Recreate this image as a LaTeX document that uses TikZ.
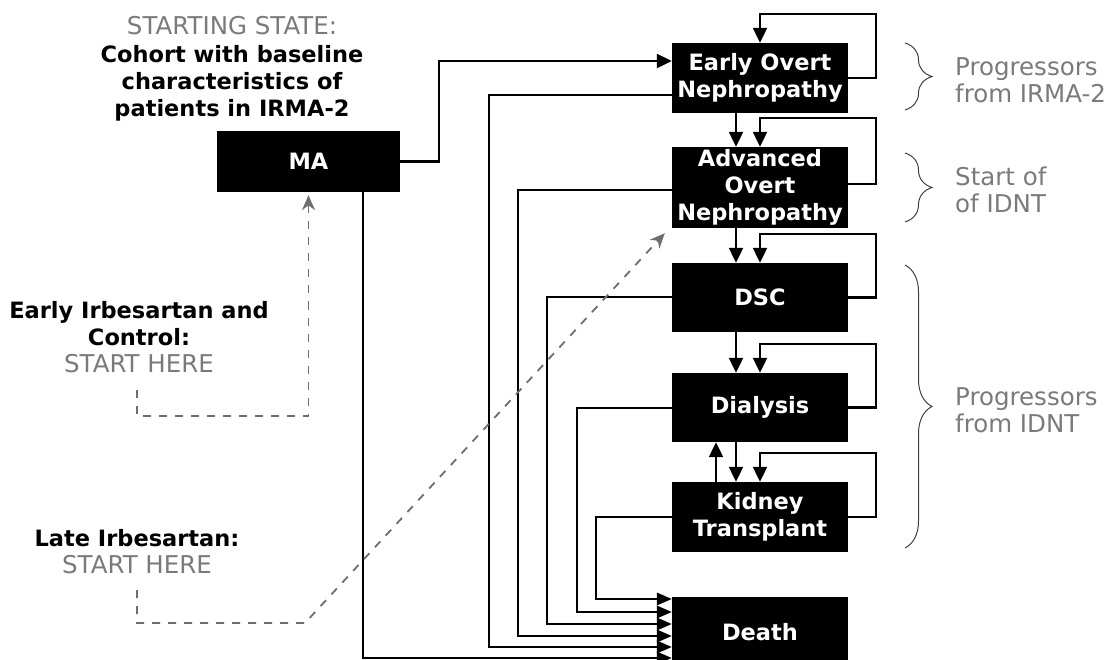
\documentclass[tikz,border=0pt]{standalone}
\usepackage{fontspec}
\setmainfont{DejaVu Sans}
\usetikzlibrary{arrows.meta,calc,decorations.pathreplacing}
\definecolor{graytext}{HTML}{7A7A7A}
\definecolor{graydash}{HTML}{6E6E6E}
\newcommand\bxfont{\fontsize{22.5}{27}\selectfont\bfseries}
\newcommand\gyfont{\fontsize{24.5}{27}\selectfont\mdseries\color{graytext}}
\begin{document}
\begin{tikzpicture}[x=1pt,y=-1pt,
  box/.style={fill=black,text=white,font=\bxfont,align=center,inner sep=0pt,minimum width=176pt},
  arr/.style={line width=2.2pt,-{Triangle[length=15pt,width=14pt]}},
  conn/.style={line width=2pt,-{Triangle[length=15pt,width=12.5pt]}},
  dasharr/.style={draw=graydash,line width=1.8pt,dash pattern=on 8pt off 8pt,-{Stealth[length=15pt,width=13pt]}},
  brc/.style={draw=black!75,line width=1pt,decorate,decoration={brace,amplitude=27pt}},
  lbl/.style={align=center,inner sep=0pt,font=\bxfont},
  glbl/.style={align=left,inner sep=0pt,font=\gyfont,anchor=west}]
\useasboundingbox (0,0) rectangle (1119,660);

% boxes
\node[box,minimum width=183pt,minimum height=61pt] (MA) at (308.5,161.5) {MA};
\node[box,minimum height=70pt] (EON) at (760,78) {Early Overt\\Nephropathy};
\node[box,minimum height=81pt] (AON) at (760,187.5) {Advanced\\Overt\\Nephropathy};
\node[box,minimum height=69pt] (DSC) at (760,297.5) {DSC};
\node[box,minimum height=69pt] (DIA) at (760,407.5) {Dialysis};
\node[box,minimum height=70pt] (KID) at (760,517) {Kidney\\Transplant};
\node[box,minimum height=70pt] (DEA) at (760,632) {Death};

% labels
\node[lbl] (TOP) at (232,68.5) {{\gyfont STARTING STATE:}\\[1pt]Cohort with baseline\\characteristics of\\patients in IRMA-2};
\node[lbl] (EI) at (139,337.5) {Early Irbesartan and\\Control:\\{\gyfont START HERE}};
\node[lbl] (LI) at (137,552) {Late Irbesartan:\\{\gyfont START HERE}};
\node[glbl] (G1) at (955,80) {Progressors\\from IRMA-2};
\node[glbl] (G2) at (955,190) {Start of\\of IDNT};
\node[glbl] (G3) at (955,410) {Progressors\\from IDNT};

% braces
\draw[brc] (905,43) -- (905,110);
\draw[brc] (905,153) -- (905,222);
\draw[brc] (905,265) -- (905,548);

% MA to early overt
\draw[arr] (MA.east) -- ++(39,0) |- ([yshift=17pt]EON.west);

% self loops
\draw[arr] (EON.east) -- ++(28,0) |- ([yshift=29pt]EON.north) -- (EON.north);
\draw[arr] ([yshift=3.5pt]AON.east) -- ++(28,0) |- ([yshift=29pt]AON.north) -- (AON.north);
\draw[arr] (DSC.east) -- ++(28,0) |- ([yshift=29pt]DSC.north) -- (DSC.north);
\draw[arr] (DIA.east) -- ++(28,0) |- ([yshift=29pt]DIA.north) -- (DIA.north);
\draw[arr] (KID.east) -- ++(28,0) |- ([yshift=29pt]KID.north) -- (KID.north);

% progressions
\draw[arr] ([xshift=-24pt]EON.south) -- ([xshift=-24pt]AON.north);
\draw[arr] ([xshift=-24pt]AON.south) -- ([xshift=-24pt]DSC.north);
\draw[arr] ([xshift=-24pt]DSC.south) -- ([xshift=-24pt]DIA.north);
\draw[arr] ([xshift=-24pt]DIA.south) -- ([xshift=-24pt]KID.north);
\draw[arr] ([xshift=-44pt]KID.north) -- ([xshift=-44pt]DIA.south);

% to death
\draw[conn] ([yshift=-17pt]EON.west) -- ++(-183,0) |- ([yshift=-15pt]DEA.west);
\draw[conn] ([yshift=-2.5pt]AON.west) -- ++(-154,0) |- ([yshift=-4pt]DEA.west);
\draw[conn] (DSC.west) -- ++(-125,0) |- ([yshift=8pt]DEA.west);
\draw[conn] (DIA.west) -- ++(-95,0) |- ([yshift=20pt]DEA.west);
\draw[conn] (KID.west) -- ++(-76,0) |- ([yshift=33pt]DEA.west);
\draw[conn] ([xshift=54.5pt]MA.south) |- ([yshift=-26pt]DEA.west);

% dashed start arrows
\coordinate (e1) at (137,390);
\coordinate (l1) at (137,590);
\draw[dasharr] (e1) -- (137,416) -| ([yshift=-3pt]MA.south);
\draw[dasharr] (l1) -- (137,623) -- (305,623) -- ($(AON.south west)+(-7,5)$);
\end{tikzpicture}
\end{document}
